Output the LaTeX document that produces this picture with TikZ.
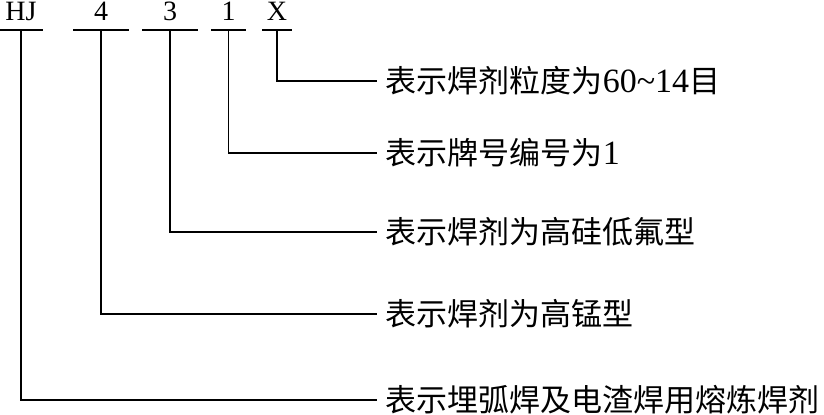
\documentclass[tikz,border=0pt]{standalone}
\usepackage{fontspec}
\setmainfont{Liberation Serif}
\newfontfamily\cjk{Noto Sans CJK SC}
\newcommand{\dig}[1]{{\rmfamily\fontsize{17}{17}\selectfont #1}}
\tikzset{
  code/.style={anchor=south, inner sep=0pt, text depth=4.5pt,
    font=\fontsize{14}{14}\selectfont},
  note/.style={anchor=west, inner xsep=4pt, inner ysep=0pt,
    font=\cjk\fontsize{15.5}{15.5}\selectfont}
}

\begin{document}
\begin{tikzpicture}[x=0.5pt, y=-0.5pt, line width=0.75pt]
  \useasboundingbox (0,0) rectangle (824,415);
  % 型号各段
  \node[code, minimum width=21.5pt] (hj) at (21,30) {HJ};
  \node[code, minimum width=27pt] (n4) at (101,30) {4};
  \node[code, minimum width=27pt] (n3) at (170,30) {3};
  \node[code, minimum width=16.5pt] (n1) at (228.5,30) {1};
  \node[code, minimum width=14pt] (nx) at (277,30) {X};
  \foreach \n in {hj,n4,n3,n1,nx}
    \draw (\n.south west) -- (\n.south east);
  % 说明
  \node[note] (t1) at (377,81) {表示焊剂粒度为\dig{60\textasciitilde14}目};
  \node[note] (t2) at (377,153) {表示牌号编号为\dig{1}};
  \node[note] (t3) at (377,232) {表示焊剂为高硅低氟型};
  \node[note] (t4) at (377,314) {表示焊剂为高锰型};
  \node[note] (t5) at (377,400) {表示埋弧焊及电渣焊用熔炼焊剂};
  \draw (nx.south) |- (t1.west);
  \draw (n1.south) |- (t2.west);
  \draw (n3.south) |- (t3.west);
  \draw (n4.south) |- (t4.west);
  \draw (hj.south) |- (t5.west);
\end{tikzpicture}
\end{document}
